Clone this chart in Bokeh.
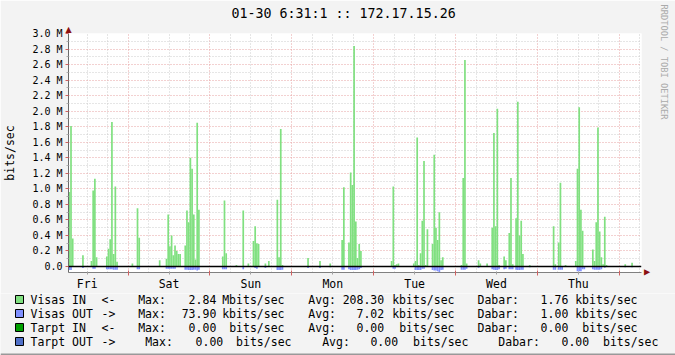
import math
from bokeh.plotting import figure
from bokeh.layouts import column
from bokeh.models import (Range1d, FixedTicker, Grid, Span, Title,
                          LinearAxis, CustomJSTickFormatter, ColumnDataSource)
from bokeh.core.properties import value
from bokeh.embed import file_html
from bokeh.resources import INLINE

# ---------------- data ----------------
title_text = "01-30 6:31:1 :: 172.17.15.26"
watermark = "RRDTOOL / TOBI OETIKER"
y_title = "bits/sec"
days = ["Fri", "Sat", "Sun", "Mon", "Tue", "Wed", "Thu"]

start_hour = 6.5 + 1.0 / 60.0
span_hours = 168.0
slot_base = 6.5
slot_hours = 0.5

in_slots = [0, 1, 2, 8, 13, 14, 15, 16, 22, 23, 24, 25, 26, 27, 28, 37, 40, 41, 53,
            57, 58, 59, 60, 61, 62, 63, 64, 65, 68, 69, 70, 71, 72, 73, 74, 75, 76,
            90, 91, 92, 98, 102, 105, 108, 109, 110, 111, 115, 117, 122, 123, 124, 125,
            140, 147, 153, 160, 161, 164, 165, 166, 167, 168, 169, 170, 171,
            189, 190, 191, 192, 193, 202, 203, 204, 205, 206, 207, 208, 209, 210,
            213, 214, 215, 216, 217, 218, 219, 230, 231, 232, 233, 240, 241, 245,
            248, 249, 250, 251, 252, 255, 256, 258, 259, 260, 262, 263, 264, 265, 266,
            270, 284, 285, 287, 288, 291, 297, 298, 299, 300, 301, 307, 308, 309, 310,
            311, 312, 313, 314, 315, 326, 330]
in_mbits = [0.96, 1.81, 0.36, 0.145, 0.07, 0.98, 1.13, 0.12, 0.13, 0.23, 0.35, 1.86, 0.16, 1.03, 0.06, 0.04, 0.75, 0.37, 0.08,
            0.10, 0.67, 0.26, 0.40, 0.145, 0.27, 0.20, 0.16, 0.16, 0.27, 0.72, 0.57, 1.40, 1.26, 0.67, 0.09, 1.85, 0.73,
            0.13, 0.85, 0.17, 0.02, 0.72, 0.04, 0.33, 0.52, 0.30, 0.29, 0.04, 0.07, 0.86, 0.12, 1.77, 0.02,
            0.11, 0.07, 0.04, 0.34, 1.02, 0.31, 1.21, 1.05, 2.84, 0.58, 0.11, 0.29, 0.20,
            0.07, 1.03, 0.02, 0.03, 0.04, 0.04, 0.07, 1.66, 0.02, 0.17, 0.59, 1.36, 0.02, 0.48,
            0.29, 1.44, 0.50, 0.34, 0.70, 0.08, 0.12, 0.02, 1.14, 2.66, 0.04, 0.08, 0.04, 0.04,
            0.50, 1.72, 0.52, 2.03, 0.02, 0.13, 0.08, 0.43, 1.14, 0.03, 0.62, 2.12, 0.40, 0.59, 0.16,
            0.02, 0.52, 0.03, 0.31, 1.08, 0.02, 0.07, 1.26, 2.05, 0.73, 0.46, 0.22, 0.07, 0.57, 1.79,
            0.45, 0.12, 0.03, 0.64, 0.02, 0.03, 0.05]

out_slots = [0, 1, 8, 14, 15, 22, 23, 24, 25, 26, 27, 28, 40, 41, 57, 58, 59, 60, 61, 62,
             68, 69, 70, 71, 72, 73, 74, 75, 76, 90, 91, 92, 102, 109, 110, 115, 122, 123, 124, 125,
             140, 147, 153, 160, 161, 164, 165, 166, 167, 168, 169, 170, 171,
             190, 191, 203, 204, 205, 206, 207, 208, 213, 214, 215, 216, 217, 218, 219,
             230, 231, 232, 233, 240, 248, 249, 250, 251, 252, 255, 256, 258, 259, 260,
             262, 263, 264, 265, 266, 270, 284, 285, 287, 288, 289, 298, 299, 300, 301, 302,
             307, 308, 309, 310, 311, 312, 314, 326, 330]
out_mbits = [0.045, 0.045, 0.02, 0.03, 0.03, 0.035, 0.035, 0.035, 0.035, 0.04, 0.04, 0.04, 0.035, 0.035,
             0.03, 0.03, 0.03, 0.03, 0.03, 0.03,
             0.04, 0.04, 0.045, 0.045, 0.045, 0.04, 0.04, 0.05, 0.04, 0.035, 0.035, 0.035, 0.035, 0.02, 0.03,
             0.02, 0.045, 0.045, 0.045, 0.04,
             0.02, 0.02, 0.01, 0.04, 0.04, 0.035, 0.045, 0.045, 0.045, 0.045, 0.04, 0.035, 0.02,
             0.03, 0.03, 0.045, 0.045, 0.045, 0.045, 0.03, 0.03, 0.045, 0.05, 0.05, 0.06, 0.074, 0.045, 0.04,
             0.04, 0.04, 0.04, 0.03, 0.015, 0.035, 0.04, 0.045, 0.045, 0.035, 0.035, 0.03, 0.035, 0.035, 0.035,
             0.04, 0.045, 0.045, 0.04, 0.04, 0.01, 0.04, 0.04, 0.04, 0.04, 0.04, 0.06, 0.06, 0.06, 0.035, 0.035,
             0.035, 0.04, 0.04, 0.04, 0.04, 0.035, 0.015, 0.01, 0.01]

y_min, y_max = -0.077, 3.0
y_major = [round(0.2 * i, 1) for i in range(16)]
y_minor = [round(0.1 + 0.2 * i, 1) for i in range(15)]

legend_names = ["Visas IN", "Visas OUT", "Tarpt IN", "Tarpt OUT"]
legend_arrows = ["<-", "->", "<-", "->"]
legend_colors = ["#80E080", "#8090FF", "#00A000", "#5070C8"]
max_vals = ["2.84", "73.90", "0.00", "0.00"]
max_units = ["Mbits/sec", "kbits/sec", " bits/sec", " bits/sec"]
avg_vals = ["208.30", "7.02", "0.00", "0.00"]
avg_units = ["kbits/sec", "kbits/sec", " bits/sec", " bits/sec"]
cur_vals = ["1.76", "1.00", "0.00", "0.00"]
cur_units = ["kbits/sec", "kbits/sec", " bits/sec", " bits/sec"]
row_shift = [0, 0, 0, 1]

# ---------------- styling ----------------
MONO = "DejaVu Sans Mono"
BG = "#F3F3F3"
GREEN = legend_colors[0]
BLUE = legend_colors[1]
MGRID = "#E7A3A3"
GRID = "#CCCCCC"
AXIS = "#808080"
ARROW = "#8B1010"
TRI = "\u25B2"

W = 675
MAIN_H = 293
LEG_H = 355 - MAIN_H
FL, FR, FT, FB = 66, 644, 33, 273

p = figure(width=W, height=MAIN_H, output_backend="svg", toolbar_location=None,
           x_range=Range1d(start_hour, start_hour + span_hours),
           y_range=Range1d(y_min, y_max),
           x_axis_type=None, y_axis_type=None,
           min_border_left=FL, min_border_right=W - FR,
           min_border_top=FT, min_border_bottom=MAIN_H - FB,
           background_fill_color="white", border_fill_color=BG,
           outline_line_color=None)
p.frame_align = False

# outermost on top: the graph title
p.title.text = title_text
p.title.align = "left"
p.title.offset = 229 - FL
p.title.standoff = 3
p.title.text_font = MONO
p.title.text_font_size = "13.3px"
p.title.text_font_style = "normal"
p.title.text_color = "black"
# next to the frame: the arrow at the top of the y axis
p.add_layout(Title(text=TRI, align="left", offset=-3, standoff=0,
                   text_font="DejaVu Sans", text_font_size="8px", text_font_style="normal",
                   text_color=ARROW), "above")

# right side: arrow at the end of the x axis (rotated), then the watermark
p.add_layout(Title(text=TRI, align="right", offset=-3, standoff=2,
                   text_font="DejaVu Sans", text_font_size="8px", text_font_style="normal",
                   text_color=ARROW), "right")
p.add_layout(Title(text=watermark, align="left", offset=-29, standoff=9,
                   text_font=MONO, text_font_size="8.7px", text_font_style="normal",
                   text_color="#AAAAAA"), "right")

six_h = [h for h in range(12, int(start_hour + span_hours) + 1, 6) if h % 24 != 0]
midnights = [h for h in range(24, int(start_hour + span_hours) + 1, 24)]
noons = [12 + 24 * i for i in range(len(days))]

for ticks, color in ((six_h, GRID), (midnights, MGRID)):
    p.add_layout(Grid(dimension=0, ticker=FixedTicker(ticks=ticks), grid_line_color=color,
                      grid_line_dash="1 2", grid_line_width=1))
for ticks, color in ((y_minor, GRID), (y_major, MGRID)):
    p.add_layout(Grid(dimension=1, ticker=FixedTicker(ticks=ticks), grid_line_color=color,
                      grid_line_dash="1 2", grid_line_width=1))

src_in = ColumnDataSource(dict(x=[slot_base + (s + 0.5) * slot_hours for s in in_slots], top=in_mbits))
src_out = ColumnDataSource(dict(x=[slot_base + (s + 0.5) * slot_hours for s in out_slots],
                                bottom=[-v for v in out_mbits]))
p.vbar(x="x", top="top", bottom=0, width=slot_hours, source=src_in,
       fill_color=GREEN, line_color=None)
p.vbar(x="x", top=0, bottom="bottom", width=slot_hours, source=src_out,
       fill_color=BLUE, line_color=None)

p.add_layout(Span(location=0, dimension="width", line_color="black", line_width=1.5))

xax = LinearAxis(ticker=FixedTicker(ticks=noons, minor_ticks=midnights),
                 formatter=CustomJSTickFormatter(args=dict(names=days),
                     code="const i = Math.floor(tick / 24); return (i >= 0 && i < names.length) ? names[i] : '';"))
xax.axis_line_color = AXIS
xax.major_tick_line_color = "#A0A0A0"
xax.major_tick_in = 1
xax.major_tick_out = 2
xax.minor_tick_line_color = "#D06060"
xax.minor_tick_in = 2
xax.minor_tick_out = 3
xax.major_label_text_font = MONO
xax.major_label_text_font_size = "11.5px"
xax.major_label_text_color = "black"
xax.major_label_standoff = 1
p.add_layout(xax, "below")

yax = LinearAxis(ticker=FixedTicker(ticks=y_major, minor_ticks=y_minor),
                 formatter=CustomJSTickFormatter(code="return Math.abs(tick) < 0.05 ? '0.0' : tick.toFixed(1) + ' M';"))
yax.axis_line_color = "#6A6A6A"
yax.major_tick_line_color = "#D06060"
yax.major_tick_in = 0
yax.major_tick_out = 3
yax.minor_tick_line_color = "#B0B0B0"
yax.minor_tick_in = 0
yax.minor_tick_out = 2
yax.major_label_text_font = MONO
yax.major_label_text_font_size = "10px"
yax.major_label_text_color = "black"
yax.major_label_standoff = 3
yax.axis_label = y_title
yax.axis_label_text_font = MONO
yax.axis_label_text_font_size = "11.5px"
yax.axis_label_text_font_style = "normal"
yax.axis_label_text_color = "black"
yax.axis_label_standoff = 12
p.add_layout(yax, "left")

# ---------------- legend strip (pixel coordinates of the whole image) ----------------
leg = figure(width=W, height=LEG_H, output_backend="svg", toolbar_location=None,
             x_range=Range1d(0, W), y_range=Range1d(355, MAIN_H),
             x_axis_type=None, y_axis_type=None,
             min_border=0, min_border_left=0, min_border_right=0,
             min_border_top=0, min_border_bottom=0,
             background_fill_color=BG, border_fill_color=BG, outline_line_color=None)
leg.frame_align = False
leg.grid.visible = False

cw = 6.95
row_y0, row_dy = 299, 14
lx, ly, lt = [], [], []
rx, ry, rt = [], [], []
bl, br, bt, bb, bc = [], [], [], [], []
for i in range(4):
    y = row_y0 + i * row_dy
    s = row_shift[i] * cw
    bl.append(15); br.append(23); bt.append(y - 4); bb.append(y + 4); bc.append(legend_colors[i])
    def L(text, X):
        lx.append(X); ly.append(y); lt.append(text)
    def R(text, X):
        rx.append(X); ry.append(y); rt.append(text)
    L(legend_names[i], 30)
    L(legend_arrows[i], 101)
    L("Max:", 137.7 + s)
    R(max_vals[i], 215.8 + s)
    L(max_units[i].strip(), 221.7 + s + (cw if max_units[i].startswith(" ") else 0))
    L("Avg:", 307.8 + 2 * s)
    R(avg_vals[i], 383.7 + 2 * s)
    L(avg_units[i].strip(), 391.7 + 2 * s + (cw if avg_units[i].startswith(" ") else 0))
    L("Dabar:", 477 + 3 * s)
    R(cur_vals[i], 567.8 + 3 * s)
    L(cur_units[i].strip(), 574.7 + 3 * s + (cw if cur_units[i].startswith(" ") else 0))

leg.quad(left=bl, right=br, top=bt, bottom=bb, fill_color=bc, line_color="black", line_width=1)
leg.text(x=lx, y=ly, text=lt, text_font=value(MONO), text_font_size="11.5px",
         text_align="left", text_baseline="middle", text_color="black")
leg.text(x=rx, y=ry, text=rt, text_font=value(MONO), text_font_size="11.5px",
         text_align="right", text_baseline="middle", text_color="black")
# bottom edge of the image frame
leg.quad(left=[0], right=[W], top=[353], bottom=[355], fill_color="#999999", line_color=None)

layout = column(p, leg, spacing=0)
open("out.html", "w").write(file_html(layout, INLINE))
